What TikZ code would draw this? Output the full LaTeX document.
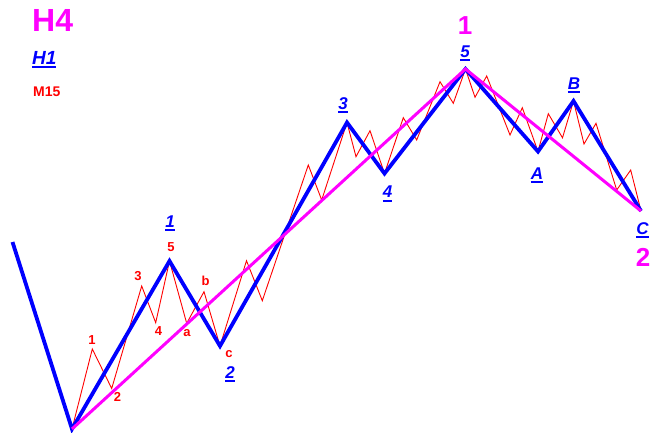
\documentclass[tikz,border=0pt]{standalone}
\usepackage{fontspec}
\setmainfont{Liberation Sans}
\definecolor{mag}{RGB}{255,0,255}
\definecolor{bl}{RGB}{0,0,255}
\definecolor{rd}{RGB}{255,0,0}
\newcommand\myul[1]{\setbox0\hbox{#1}\rlap{\vrule width \wd0 height -2.3pt depth 4.3pt}\box0}
\begin{document}
\begin{tikzpicture}[x=1pt,y=-1pt,
  redline/.style={draw=rd,line width=0.9pt},
  blueline/.style={draw=bl,line width=3.8pt},
  pinkline/.style={draw=mag,line width=3pt},
  redlab/.style={text=rd,font=\fontsize{13}{13}\selectfont\bfseries,inner sep=0pt},
  bluelab/.style={text=bl,font=\fontsize{17}{17}\selectfont\bfseries\itshape,inner sep=0pt,anchor=base},
  pinklab/.style={text=mag,font=\fontsize{26}{26}\selectfont\bfseries,inner sep=0pt}]
\useasboundingbox (0,0) rectangle (650,432);
% main vertices
\coordinate (s0) at (12.5,242);
\coordinate (w0) at (72,429);
\coordinate (w1) at (169.5,261);
\coordinate (w2) at (220,346);
\coordinate (w3) at (347,122.5);
\coordinate (w4) at (384.5,173.5);
\coordinate (w5) at (465.5,69);
\coordinate (wA) at (538,151.5);
\coordinate (wB) at (573.5,101);
\coordinate (wC) at (641,211);
% red path
\draw[redline] (w0) -- (92.3,349) -- (111.7,388.5) -- (141.7,286) -- (155.7,322.7)
  -- (w1) -- (186.7,323.3) -- (204,291.7) -- (w2) -- (246.5,260.7) -- (262.3,300.7)
  -- (308.3,165) -- (321.7,200) -- (w3) -- (356,156.7) -- (370,130.7) -- (w4)
  -- (403.3,117.7) -- (416.7,140) -- (440,81.7) -- (453.3,103.3) -- (w5)
  -- (475,97.3) -- (486.7,76) -- (510,135) -- (522.3,107.7) -- (wA)
  -- (548.3,113.7) -- (562.5,137.8) -- (wB) -- (584,144) -- (596,123.3)
  -- (616.7,190) -- (630.7,170) -- (wC);
% blue path
\draw[blueline] (s0) -- (w0) -- (w1) -- (w2) -- (w3) -- (w4) -- (w5) -- (wA) -- (wB) -- (wC);
% magenta path
\draw[pinkline] (w0) -- (w5) -- (wC);
% titles
\node[text=mag,font=\fontsize{32}{32}\selectfont\bfseries,inner sep=0pt,anchor=base west] (tH4) at (32,31) {H4};
\node[bluelab,font=\fontsize{19}{19}\selectfont\bfseries\itshape,anchor=base west] (tH1) at (32,64) {\myul{H1}};
\node[text=rd,font=\fontsize{14}{14}\selectfont\bfseries,inner sep=0pt,anchor=base west] (tM15) at (33,96.5) {M15};
% magenta labels
\node[pinklab] (p1) at (465,26) {1};
\node[pinklab] (p2) at (643,257.5) {2};
% blue labels
\node[bluelab] (b1) at (170,227) {\myul{1}};
\node[bluelab] (b2) at (230,378) {\myul{2}};
\node[bluelab] (b3) at (343,109) {\myul{3}};
\node[bluelab] (b4) at (387.5,197.5) {\myul{4}};
\node[bluelab] (b5) at (465,57) {\myul{5}};
\node[bluelab] (bA) at (537,179) {\myul{A}};
\node[bluelab] (bB) at (574,89) {\myul{B}};
\node[bluelab] (bC) at (642.5,234) {\myul{C}};
% red labels
\node[redlab] (r1) at (92,340) {1};
\node[redlab] (r2) at (117.5,397) {2};
\node[redlab] (r3) at (138,276.5) {3};
\node[redlab] (r4) at (158.5,331) {4};
\node[redlab] (r5) at (171,247) {5};
\node[redlab] (ra) at (187,333.5) {a};
\node[redlab] (rb) at (205.5,281) {b};
\node[redlab] (rc) at (229,354) {c};
\end{tikzpicture}
\end{document}
